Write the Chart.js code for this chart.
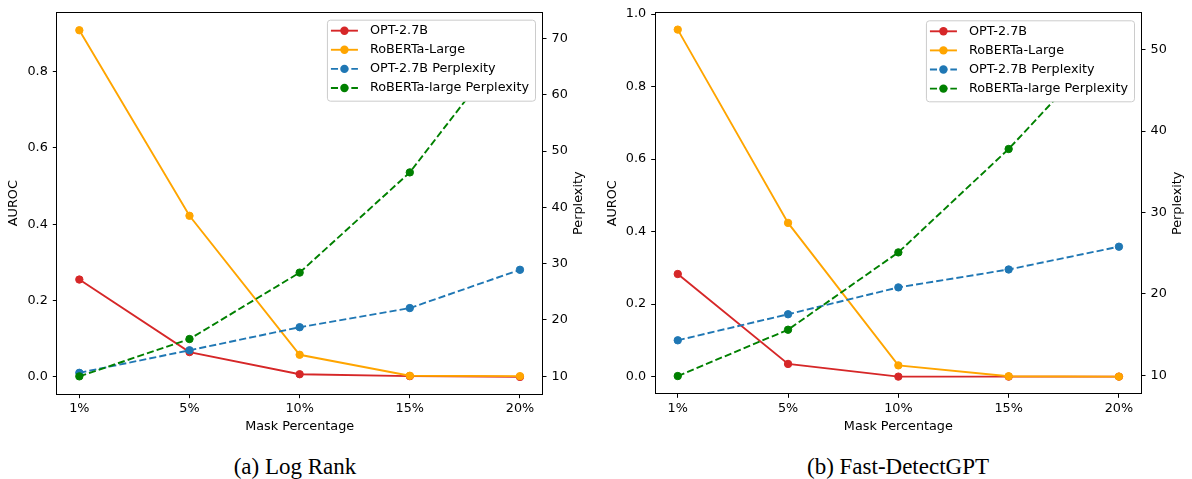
<!DOCTYPE html>
<html><head><meta charset="utf-8">
<script src="https://cdn.jsdelivr.net/npm/chart.js@4"></script>
<style>
html,body{margin:0;padding:0;background:#fff;width:1192px;height:479px;overflow:hidden;}
#wrap{position:relative;width:1192px;height:479px;background:#fff;}
canvas{position:absolute;top:0;}
.cap{position:absolute;top:455px;font-family:'Liberation Serif','Times New Roman',serif;font-size:23px;line-height:23px;text-align:center;color:#000;white-space:nowrap;}
</style></head><body>
<div id="wrap">
<canvas id="c1" width="596" height="440" style="left:0"></canvas>
<canvas id="c2" width="596" height="440" style="left:596px"></canvas>
<div class="cap" style="left:0;width:590px">(a) Log Rank</div>
<div class="cap" style="left:602px;width:592px">(b) Fast-DetectGPT</div>
</div>
<script>
// ---- data ----
const maskLabels = ['1%', '5%', '10%', '15%', '20%'];
const seriesNames = ['OPT-2.7B', 'RoBERTa-Large', 'OPT-2.7B Perplexity', 'RoBERTa-large Perplexity'];
const aurocTitle = 'AUROC';
const pplTitle = 'Perplexity';
const xTitle = 'Mask Percentage';

// (a) Log Rank
const logRankOptAuroc = [0.255, 0.065, 0.007, 0.002, 0.0];
const logRankRobertaAuroc = [0.908, 0.422, 0.058, 0.003, 0.002];
const logRankOptPpl = [10.6, 14.6, 18.7, 22.1, 28.9];
const logRankRobertaPpl = [9.97, 16.6, 28.4, 46.2, 71.5];
const aurocTicksA = [0, 0.2, 0.4, 0.6, 0.8];
const pplTicksA = [10, 20, 30, 40, 50, 60, 70];

// (b) Fast-DetectGPT
const fastOptAuroc = [0.283, 0.035, 0.0, 0.0, 0.0];
const fastRobertaAuroc = [0.957, 0.424, 0.031, 0.001, 0.0];
const fastOptPpl = [14.3, 17.5, 20.8, 23.0, 25.8];
const fastRobertaPpl = [9.91, 15.6, 25.1, 37.8, 52.3];
const aurocTicksB = [0, 0.2, 0.4, 0.6, 0.8, 1.0];
const pplTicksB = [10, 20, 30, 40, 50];

const colors = ['#d62728', '#ffa500', '#1f77b4', '#008000'];

Chart.defaults.font.family = "'DejaVu Sans', sans-serif";
Chart.defaults.font.size = 12.8;
Chart.defaults.color = '#000';

const FONT = '12.8px "DejaVu Sans", sans-serif';

const mplPlugin = {
  id: 'mpl',
  afterDraw(chart, args, o) {
    const {ctx, chartArea: a} = chart;
    ctx.save();
    // frame (spines)
    ctx.strokeStyle = '#000'; ctx.lineWidth = 1; ctx.setLineDash([]);
    const L = Math.round(a.left) - 0.5, R = Math.round(a.right) + 0.5;
    const T = Math.round(a.top) - 0.5, B = Math.round(a.bottom) + 0.5;
    ctx.strokeRect(L, T, R - L, B - T);
    // right axis title (reads bottom-to-top as in matplotlib)
    ctx.save();
    ctx.font = FONT; ctx.fillStyle = '#000';
    ctx.translate(a.right + o.rightTitleGap, (a.top + a.bottom) / 2);
    ctx.rotate(-Math.PI / 2);
    ctx.textAlign = 'center'; ctx.textBaseline = 'middle';
    ctx.fillText(o.rightTitle, 0, 0);
    ctx.restore();
    // legend
    const items = chart.data.datasets.map(d => ({label: d.label, color: d.borderColor, dash: d.borderDash || []}));
    ctx.font = FONT;
    const tw = Math.max(...items.map(i => ctx.measureText(i.label).width));
    const w = 43 + tw + 6, h = 81;
    const bx = a.right - 7 - w, by = a.top + 7;
    ctx.beginPath();
    if (ctx.roundRect) ctx.roundRect(bx + 0.5, by + 0.5, w, h, 3); else ctx.rect(bx + 0.5, by + 0.5, w, h);
    ctx.fillStyle = '#fff'; ctx.fill();
    ctx.strokeStyle = '#cccccc'; ctx.lineWidth = 1; ctx.stroke();
    items.forEach((it, k) => {
      const ry = by + 11 + k * 19.1;
      ctx.strokeStyle = it.color; ctx.lineWidth = 1.9; ctx.setLineDash(it.dash);
      ctx.beginPath(); ctx.moveTo(bx + 4, ry); ctx.lineTo(bx + 31, ry); ctx.stroke();
      ctx.setLineDash([]);
      ctx.beginPath(); ctx.arc(bx + 17.5, ry, 4.2, 0, 2 * Math.PI);
      ctx.fillStyle = it.color; ctx.fill();
      ctx.fillStyle = '#000'; ctx.textAlign = 'left'; ctx.textBaseline = 'middle';
      ctx.fillText(it.label, bx + 43, ry);
    });
    ctx.restore();
  }
};

function ds(label, vals, color, axis, dashed, order) {
  return {
    label, data: vals.map((y, i) => ({x: i, y})), yAxisID: axis,
    borderColor: color, backgroundColor: color,
    pointBackgroundColor: color, pointBorderColor: color,
    borderWidth: 1.9, borderDash: dashed ? [7.1, 3.1] : [],
    pointRadius: 3.7, pointBorderWidth: 1, pointHoverRadius: 3.7,
    tension: 0, fill: false, order
  };
}

function makeChart(id, p) {
  const tickGrid = {display: true, drawOnChartArea: false, drawTicks: true, tickLength: 4.5,
                    tickColor: '#000', tickWidth: 1, color: '#000'};
  return new Chart(document.getElementById(id), {
    type: 'line',
    data: {
      datasets: [
        ds(seriesNames[0], p.optAuroc, colors[0], 'y', false, 4),
        ds(seriesNames[1], p.robAuroc, colors[1], 'y', false, 3),
        ds(seriesNames[2], p.optPpl, colors[2], 'y1', true, 2),
        ds(seriesNames[3], p.robPpl, colors[3], 'y1', true, 1)
      ]
    },
    options: {
      responsive: false, animation: false, events: [],
      layout: {padding: {top: p.top, left: 0, right: 0, bottom: 0}},
      plugins: {legend: {display: false}, tooltip: {enabled: false},
                mpl: {rightTitle: pplTitle, rightTitleGap: 37}},
      scales: {
        x: {
          type: 'linear', min: -0.2, max: 4.2,
          afterBuildTicks: s => { s.ticks = maskLabels.map((_, i) => ({value: i})); },
          afterFit: s => { s.height = 440 - p.bottom; },
          ticks: {callback: v => maskLabels[Math.round(v)], padding: 3, maxRotation: 0, autoSkip: false, color: '#000'},
          grid: tickGrid, border: {display: false},
          title: {display: true, text: xTitle, padding: {top: 0, bottom: 5.3}, color: '#000'}
        },
        y: {
          type: 'linear', position: 'left', min: p.yMin, max: p.yMax,
          afterBuildTicks: s => { s.ticks = p.aurocTicks.map(v => ({value: v})); },
          afterFit: s => { s.width = p.left; },
          ticks: {callback: v => Number(v).toFixed(1), padding: 5, color: '#000'},
          grid: tickGrid, border: {display: false},
          title: {display: true, text: aurocTitle, padding: {top: p.titlePad, bottom: 0}, color: '#000'}
        },
        y1: {
          type: 'linear', position: 'right', min: p.y1Min, max: p.y1Max,
          afterBuildTicks: s => { s.ticks = p.pplTicks.map(v => ({value: v})); },
          afterFit: s => { s.width = p.rightW; },
          ticks: {callback: v => String(v), padding: 5, color: '#000'},
          grid: tickGrid, border: {display: false}
        }
      }
    },
    plugins: [mplPlugin]
  });
}

makeChart('c1', {
  optAuroc: logRankOptAuroc, robAuroc: logRankRobertaAuroc,
  optPpl: logRankOptPpl, robPpl: logRankRobertaPpl,
  aurocTicks: aurocTicksA, pplTicks: pplTicksA,
  yMin: -0.044, yMax: 0.954, y1Min: 6.89, y1Max: 74.57,
  top: 8.3, bottom: 393.7, left: 57.3, rightW: 54, titlePad: 6.3
});
makeChart('c2', {
  optAuroc: fastOptAuroc, robAuroc: fastRobertaAuroc,
  optPpl: fastOptPpl, robPpl: fastRobertaPpl,
  aurocTicks: aurocTicksB, pplTicks: pplTicksB,
  yMin: -0.046, yMax: 1.002, y1Min: 7.79, y1Max: 54.47,
  top: 13.3, bottom: 393.3, left: 59.7, rightW: 51, titlePad: 9
});
</script>
</body></html>
